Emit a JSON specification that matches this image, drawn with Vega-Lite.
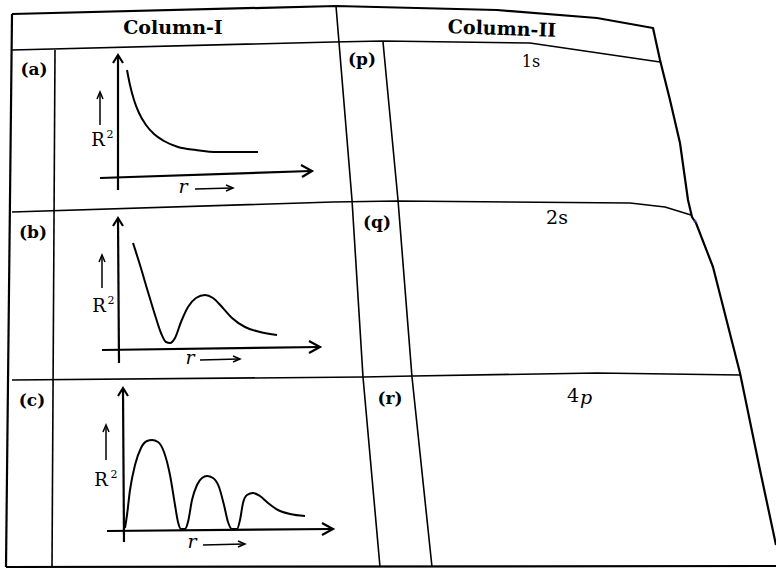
{
  "$schema": "https://vega.github.io/schema/vega-lite/v6.json",
  "width": 776,
  "height": 570,
  "padding": 0,
  "autosize": {"type": "none"},
  "background": "white",
  "config": {"view": {"stroke": null}},
  "datasets": {
    "lines": [
      {"id": "O1", "kind": "outer", "k": 1, "x": 12, "y": 14},
      {"id": "O1", "kind": "outer", "k": 2, "x": 336, "y": 6},
      {"id": "O1", "kind": "outer", "k": 3, "x": 497, "y": 10},
      {"id": "O1", "kind": "outer", "k": 4, "x": 597, "y": 18},
      {"id": "O1", "kind": "outer", "k": 5, "x": 653, "y": 28},
      {"id": "O1", "kind": "outer", "k": 6, "x": 660, "y": 60},
      {"id": "O1", "kind": "outer", "k": 7, "x": 670, "y": 100},
      {"id": "O1", "kind": "outer", "k": 8, "x": 680, "y": 143},
      {"id": "O1", "kind": "outer", "k": 9, "x": 688, "y": 200},
      {"id": "O1", "kind": "outer", "k": 10, "x": 692, "y": 217},
      {"id": "O1", "kind": "outer", "k": 11, "x": 696, "y": 223},
      {"id": "O1", "kind": "outer", "k": 12, "x": 713, "y": 267},
      {"id": "O1", "kind": "outer", "k": 13, "x": 740, "y": 373},
      {"id": "O1", "kind": "outer", "k": 14, "x": 760, "y": 470},
      {"id": "O1", "kind": "outer", "k": 15, "x": 776, "y": 545},
      {"id": "O2", "kind": "outer", "k": 1, "x": 12, "y": 14},
      {"id": "O2", "kind": "outer", "k": 2, "x": 6, "y": 567},
      {"id": "O3", "kind": "outer", "k": 1, "x": 6, "y": 567},
      {"id": "O3", "kind": "outer", "k": 2, "x": 776, "y": 566},
      {"id": "H1", "kind": "inner", "k": 1, "x": 12, "y": 50},
      {"id": "H1", "kind": "inner", "k": 2, "x": 333, "y": 42},
      {"id": "H1", "kind": "inner", "k": 3, "x": 383, "y": 41},
      {"id": "H1", "kind": "inner", "k": 4, "x": 530, "y": 43},
      {"id": "H1", "kind": "inner", "k": 5, "x": 660, "y": 62},
      {"id": "R1", "kind": "inner", "k": 1, "x": 12, "y": 212},
      {"id": "R1", "kind": "inner", "k": 2, "x": 333, "y": 202},
      {"id": "R1", "kind": "inner", "k": 3, "x": 397, "y": 201},
      {"id": "R1", "kind": "inner", "k": 4, "x": 630, "y": 203},
      {"id": "R1", "kind": "inner", "k": 5, "x": 665, "y": 207},
      {"id": "R1", "kind": "inner", "k": 6, "x": 691, "y": 215},
      {"id": "R2", "kind": "inner", "k": 1, "x": 12, "y": 380},
      {"id": "R2", "kind": "inner", "k": 2, "x": 363, "y": 377},
      {"id": "R2", "kind": "inner", "k": 3, "x": 413, "y": 376},
      {"id": "R2", "kind": "inner", "k": 4, "x": 597, "y": 373},
      {"id": "R2", "kind": "inner", "k": 5, "x": 740, "y": 375},
      {"id": "V1", "kind": "inner", "k": 1, "x": 55, "y": 50},
      {"id": "V1", "kind": "inner", "k": 2, "x": 52, "y": 567},
      {"id": "V2", "kind": "inner", "k": 1, "x": 336, "y": 6},
      {"id": "V2", "kind": "inner", "k": 2, "x": 352, "y": 200},
      {"id": "V2", "kind": "inner", "k": 3, "x": 363, "y": 377},
      {"id": "V2", "kind": "inner", "k": 4, "x": 380, "y": 567},
      {"id": "V3", "kind": "inner", "k": 1, "x": 383, "y": 42},
      {"id": "V3", "kind": "inner", "k": 2, "x": 398, "y": 200},
      {"id": "V3", "kind": "inner", "k": 3, "x": 412, "y": 377},
      {"id": "V3", "kind": "inner", "k": 4, "x": 432, "y": 567},

      {"id": "AY", "kind": "axis", "k": 1, "x": 118, "y": 190},
      {"id": "AY", "kind": "axis", "k": 2, "x": 118, "y": 56},
      {"id": "AYh", "kind": "axis", "k": 1, "x": 113, "y": 63},
      {"id": "AYh", "kind": "axis", "k": 2, "x": 118, "y": 55},
      {"id": "AYh", "kind": "axis", "k": 3, "x": 123, "y": 63},
      {"id": "AX", "kind": "axis", "k": 1, "x": 100, "y": 178},
      {"id": "AX", "kind": "axis", "k": 2, "x": 311, "y": 171},
      {"id": "AXh", "kind": "axis", "k": 1, "x": 301, "y": 165},
      {"id": "AXh", "kind": "axis", "k": 2, "x": 312, "y": 171},
      {"id": "AXh", "kind": "axis", "k": 3, "x": 302, "y": 177},
      {"id": "BY", "kind": "axis", "k": 1, "x": 119, "y": 363},
      {"id": "BY", "kind": "axis", "k": 2, "x": 118, "y": 219},
      {"id": "BYh", "kind": "axis", "k": 1, "x": 113, "y": 226},
      {"id": "BYh", "kind": "axis", "k": 2, "x": 118, "y": 218},
      {"id": "BYh", "kind": "axis", "k": 3, "x": 123, "y": 226},
      {"id": "BX", "kind": "axis", "k": 1, "x": 102, "y": 350},
      {"id": "BX", "kind": "axis", "k": 2, "x": 319, "y": 347},
      {"id": "BXh", "kind": "axis", "k": 1, "x": 309, "y": 341},
      {"id": "BXh", "kind": "axis", "k": 2, "x": 320, "y": 347},
      {"id": "BXh", "kind": "axis", "k": 3, "x": 309, "y": 353},
      {"id": "CY", "kind": "axis", "k": 1, "x": 124, "y": 542},
      {"id": "CY", "kind": "axis", "k": 2, "x": 123, "y": 389},
      {"id": "CYh", "kind": "axis", "k": 1, "x": 118, "y": 396},
      {"id": "CYh", "kind": "axis", "k": 2, "x": 123, "y": 388},
      {"id": "CYh", "kind": "axis", "k": 3, "x": 128, "y": 396},
      {"id": "CX", "kind": "axis", "k": 1, "x": 107, "y": 531},
      {"id": "CX", "kind": "axis", "k": 2, "x": 332, "y": 529},
      {"id": "CXh", "kind": "axis", "k": 1, "x": 322, "y": 523},
      {"id": "CXh", "kind": "axis", "k": 2, "x": 333, "y": 529},
      {"id": "CXh", "kind": "axis", "k": 3, "x": 322, "y": 535},

      {"id": "AU", "kind": "thin", "k": 1, "x": 100, "y": 125},
      {"id": "AU", "kind": "thin", "k": 2, "x": 100, "y": 93},
      {"id": "AUh", "kind": "thin", "k": 1, "x": 97, "y": 99},
      {"id": "AUh", "kind": "thin", "k": 2, "x": 100, "y": 92},
      {"id": "AUh", "kind": "thin", "k": 3, "x": 103, "y": 99},
      {"id": "AR", "kind": "thin", "k": 1, "x": 195, "y": 189},
      {"id": "AR", "kind": "thin", "k": 2, "x": 232, "y": 188},
      {"id": "ARh", "kind": "thin", "k": 1, "x": 226, "y": 185},
      {"id": "ARh", "kind": "thin", "k": 2, "x": 233, "y": 188},
      {"id": "ARh", "kind": "thin", "k": 3, "x": 226, "y": 191},
      {"id": "BU", "kind": "thin", "k": 1, "x": 102, "y": 288},
      {"id": "BU", "kind": "thin", "k": 2, "x": 102, "y": 256},
      {"id": "BUh", "kind": "thin", "k": 1, "x": 99, "y": 262},
      {"id": "BUh", "kind": "thin", "k": 2, "x": 102, "y": 255},
      {"id": "BUh", "kind": "thin", "k": 3, "x": 105, "y": 262},
      {"id": "BR", "kind": "thin", "k": 1, "x": 200, "y": 360},
      {"id": "BR", "kind": "thin", "k": 2, "x": 239, "y": 359},
      {"id": "BRh", "kind": "thin", "k": 1, "x": 233, "y": 356},
      {"id": "BRh", "kind": "thin", "k": 2, "x": 240, "y": 359},
      {"id": "BRh", "kind": "thin", "k": 3, "x": 233, "y": 362},
      {"id": "CU", "kind": "thin", "k": 1, "x": 106, "y": 460},
      {"id": "CU", "kind": "thin", "k": 2, "x": 106, "y": 426},
      {"id": "CUh", "kind": "thin", "k": 1, "x": 103, "y": 432},
      {"id": "CUh", "kind": "thin", "k": 2, "x": 106, "y": 425},
      {"id": "CUh", "kind": "thin", "k": 3, "x": 109, "y": 432},
      {"id": "CR", "kind": "thin", "k": 1, "x": 203, "y": 545},
      {"id": "CR", "kind": "thin", "k": 2, "x": 244, "y": 544},
      {"id": "CRh", "kind": "thin", "k": 1, "x": 238, "y": 541},
      {"id": "CRh", "kind": "thin", "k": 2, "x": 245, "y": 544},
      {"id": "CRh", "kind": "thin", "k": 3, "x": 238, "y": 547},

      {"id": "CA", "kind": "curve", "k": 1, "x": 127, "y": 70},
      {"id": "CA", "kind": "curve", "k": 2, "x": 130, "y": 85},
      {"id": "CA", "kind": "curve", "k": 3, "x": 134, "y": 100},
      {"id": "CA", "kind": "curve", "k": 4, "x": 139, "y": 113},
      {"id": "CA", "kind": "curve", "k": 5, "x": 146, "y": 125},
      {"id": "CA", "kind": "curve", "k": 6, "x": 154, "y": 134},
      {"id": "CA", "kind": "curve", "k": 7, "x": 164, "y": 141},
      {"id": "CA", "kind": "curve", "k": 8, "x": 178, "y": 147},
      {"id": "CA", "kind": "curve", "k": 9, "x": 196, "y": 150},
      {"id": "CA", "kind": "curve", "k": 10, "x": 218, "y": 152},
      {"id": "CA", "kind": "curve", "k": 11, "x": 258, "y": 152},
      {"id": "CB", "kind": "curve", "k": 1, "x": 133, "y": 243},
      {"id": "CB", "kind": "curve", "k": 2, "x": 140, "y": 265},
      {"id": "CB", "kind": "curve", "k": 3, "x": 148, "y": 292},
      {"id": "CB", "kind": "curve", "k": 4, "x": 155, "y": 315},
      {"id": "CB", "kind": "curve", "k": 5, "x": 161, "y": 333},
      {"id": "CB", "kind": "curve", "k": 6, "x": 166, "y": 342},
      {"id": "CB", "kind": "curve", "k": 7, "x": 170, "y": 343},
      {"id": "CB", "kind": "curve", "k": 8, "x": 175, "y": 338},
      {"id": "CB", "kind": "curve", "k": 9, "x": 181, "y": 322},
      {"id": "CB", "kind": "curve", "k": 10, "x": 188, "y": 307},
      {"id": "CB", "kind": "curve", "k": 11, "x": 196, "y": 298},
      {"id": "CB", "kind": "curve", "k": 12, "x": 205, "y": 295},
      {"id": "CB", "kind": "curve", "k": 13, "x": 213, "y": 298},
      {"id": "CB", "kind": "curve", "k": 14, "x": 222, "y": 307},
      {"id": "CB", "kind": "curve", "k": 15, "x": 232, "y": 318},
      {"id": "CB", "kind": "curve", "k": 16, "x": 245, "y": 327},
      {"id": "CB", "kind": "curve", "k": 17, "x": 260, "y": 332},
      {"id": "CB", "kind": "curve", "k": 18, "x": 277, "y": 335},
      {"id": "CC", "kind": "curve", "k": 1, "x": 125, "y": 528},
      {"id": "CC", "kind": "curve", "k": 2, "x": 127, "y": 515},
      {"id": "CC", "kind": "curve", "k": 3, "x": 130, "y": 490},
      {"id": "CC", "kind": "curve", "k": 4, "x": 135, "y": 465},
      {"id": "CC", "kind": "curve", "k": 5, "x": 141, "y": 448},
      {"id": "CC", "kind": "curve", "k": 6, "x": 147, "y": 441},
      {"id": "CC", "kind": "curve", "k": 7, "x": 152, "y": 440},
      {"id": "CC", "kind": "curve", "k": 8, "x": 158, "y": 442},
      {"id": "CC", "kind": "curve", "k": 9, "x": 164, "y": 452},
      {"id": "CC", "kind": "curve", "k": 10, "x": 170, "y": 475},
      {"id": "CC", "kind": "curve", "k": 11, "x": 175, "y": 505},
      {"id": "CC", "kind": "curve", "k": 12, "x": 178, "y": 522},
      {"id": "CC", "kind": "curve", "k": 13, "x": 181, "y": 529},
      {"id": "CC", "kind": "curve", "k": 14, "x": 185, "y": 529},
      {"id": "CC", "kind": "curve", "k": 15, "x": 188, "y": 522},
      {"id": "CC", "kind": "curve", "k": 16, "x": 192, "y": 500},
      {"id": "CC", "kind": "curve", "k": 17, "x": 197, "y": 485},
      {"id": "CC", "kind": "curve", "k": 18, "x": 202, "y": 478},
      {"id": "CC", "kind": "curve", "k": 19, "x": 207, "y": 476},
      {"id": "CC", "kind": "curve", "k": 20, "x": 213, "y": 478},
      {"id": "CC", "kind": "curve", "k": 21, "x": 219, "y": 487},
      {"id": "CC", "kind": "curve", "k": 22, "x": 224, "y": 505},
      {"id": "CC", "kind": "curve", "k": 23, "x": 228, "y": 522},
      {"id": "CC", "kind": "curve", "k": 24, "x": 232, "y": 529},
      {"id": "CC", "kind": "curve", "k": 25, "x": 237, "y": 529},
      {"id": "CC", "kind": "curve", "k": 26, "x": 240, "y": 520},
      {"id": "CC", "kind": "curve", "k": 27, "x": 243, "y": 503},
      {"id": "CC", "kind": "curve", "k": 28, "x": 247, "y": 495},
      {"id": "CC", "kind": "curve", "k": 29, "x": 253, "y": 493},
      {"id": "CC", "kind": "curve", "k": 30, "x": 260, "y": 496},
      {"id": "CC", "kind": "curve", "k": 31, "x": 268, "y": 503},
      {"id": "CC", "kind": "curve", "k": 32, "x": 278, "y": 510},
      {"id": "CC", "kind": "curve", "k": 33, "x": 290, "y": 514},
      {"id": "CC", "kind": "curve", "k": 34, "x": 305, "y": 516}
    ],
    "labels": [
      {"kind": "header", "text": "Column-I", "x": 173, "y": 28},
      {"kind": "header2", "text": "Column-II", "x": 502, "y": 29},
      {"kind": "letter", "text": "(a)", "x": 34, "y": 70},
      {"kind": "letter", "text": "(b)", "x": 33, "y": 233},
      {"kind": "letter", "text": "(c)", "x": 32, "y": 401},
      {"kind": "letter", "text": "(p)", "x": 362, "y": 60},
      {"kind": "letter", "text": "(q)", "x": 377, "y": 223},
      {"kind": "letter", "text": "(r)", "x": 390, "y": 399},
      {"kind": "answer1", "text": "1s", "x": 531, "y": 62},
      {"kind": "answer", "text": "2s", "x": 557, "y": 218},
      {"kind": "answer", "text": "4", "x": 573, "y": 396},
      {"kind": "italic", "text": "p", "x": 586, "y": 398},
      {"kind": "axislab", "text": "R", "x": 98, "y": 141},
      {"kind": "sup", "text": "2", "x": 110, "y": 135},
      {"kind": "axislab", "text": "R", "x": 99, "y": 307},
      {"kind": "sup", "text": "2", "x": 111, "y": 301},
      {"kind": "axislab", "text": "R", "x": 101, "y": 481},
      {"kind": "sup", "text": "2", "x": 114, "y": 475},
      {"kind": "italic", "text": "r", "x": 183, "y": 187},
      {"kind": "italic", "text": "r", "x": 190, "y": 358},
      {"kind": "italic", "text": "r", "x": 192, "y": 542}
    ],
    "dots": [
      {"x": 695, "y": 221}
    ]
  },
  "encoding": {
    "x": {"field": "x", "type": "quantitative", "scale": {"domain": [0, 776], "nice": false, "zero": false}, "axis": null},
    "y": {"field": "y", "type": "quantitative", "scale": {"domain": [0, 570], "nice": false, "zero": false, "reverse": true}, "axis": null}
  },
  "layer": [
    {
      "data": {"name": "lines"},
      "transform": [{"filter": "datum.kind === 'outer'"}],
      "mark": {"type": "line", "color": "black", "strokeWidth": 2.2, "strokeJoin": "round"},
      "encoding": {"detail": {"field": "id"}, "order": {"field": "k", "type": "quantitative"}}
    },
    {
      "data": {"name": "lines"},
      "transform": [{"filter": "datum.kind === 'inner'"}],
      "mark": {"type": "line", "color": "black", "strokeWidth": 1.6, "strokeJoin": "round"},
      "encoding": {"detail": {"field": "id"}, "order": {"field": "k", "type": "quantitative"}}
    },
    {
      "data": {"name": "lines"},
      "transform": [{"filter": "datum.kind === 'axis'"}],
      "mark": {"type": "line", "color": "black", "strokeWidth": 2.2, "strokeJoin": "miter", "strokeCap": "butt"},
      "encoding": {"detail": {"field": "id"}, "order": {"field": "k", "type": "quantitative"}}
    },
    {
      "data": {"name": "lines"},
      "transform": [{"filter": "datum.kind === 'thin'"}],
      "mark": {"type": "line", "color": "black", "strokeWidth": 1.5, "strokeJoin": "miter"},
      "encoding": {"detail": {"field": "id"}, "order": {"field": "k", "type": "quantitative"}}
    },
    {
      "data": {"name": "lines"},
      "transform": [{"filter": "datum.kind === 'curve'"}],
      "mark": {"type": "line", "color": "black", "strokeWidth": 2, "interpolate": "monotone", "strokeJoin": "round"},
      "encoding": {"detail": {"field": "id"}, "order": {"field": "k", "type": "quantitative"}}
    },
    {
      "data": {"name": "dots"},
      "mark": {"type": "point", "filled": true, "color": "#3344dd", "size": 10}
    },
    {
      "data": {"name": "labels"},
      "transform": [{"filter": "datum.kind === 'header'"}],
      "mark": {"type": "text", "font": "DejaVu Serif", "fontWeight": "bold", "fontSize": 19, "color": "black", "align": "center", "baseline": "middle"},
      "encoding": {"text": {"field": "text"}}
    },
    {
      "data": {"name": "labels"},
      "transform": [{"filter": "datum.kind === 'header2'"}],
      "mark": {"type": "text", "font": "DejaVu Serif", "fontWeight": "bold", "fontSize": 19, "color": "black", "align": "center", "baseline": "middle", "angle": 2},
      "encoding": {"text": {"field": "text"}}
    },
    {
      "data": {"name": "labels"},
      "transform": [{"filter": "datum.kind === 'letter'"}],
      "mark": {"type": "text", "font": "DejaVu Serif", "fontWeight": "bold", "fontSize": 17, "color": "black", "align": "center", "baseline": "middle"},
      "encoding": {"text": {"field": "text"}}
    },
    {
      "data": {"name": "labels"},
      "transform": [{"filter": "datum.kind === 'answer1'"}],
      "mark": {"type": "text", "font": "DejaVu Serif", "fontSize": 16, "color": "black", "align": "center", "baseline": "middle"},
      "encoding": {"text": {"field": "text"}}
    },
    {
      "data": {"name": "labels"},
      "transform": [{"filter": "datum.kind === 'answer'"}],
      "mark": {"type": "text", "font": "DejaVu Serif", "fontSize": 19, "color": "black", "align": "center", "baseline": "middle"},
      "encoding": {"text": {"field": "text"}}
    },
    {
      "data": {"name": "labels"},
      "transform": [{"filter": "datum.kind === 'italic'"}],
      "mark": {"type": "text", "font": "DejaVu Serif", "fontStyle": "italic", "fontSize": 19, "color": "black", "align": "center", "baseline": "middle"},
      "encoding": {"text": {"field": "text"}}
    },
    {
      "data": {"name": "labels"},
      "transform": [{"filter": "datum.kind === 'axislab'"}],
      "mark": {"type": "text", "font": "DejaVu Serif", "fontSize": 18, "color": "black", "align": "center", "baseline": "middle"},
      "encoding": {"text": {"field": "text"}}
    },
    {
      "data": {"name": "labels"},
      "transform": [{"filter": "datum.kind === 'sup'"}],
      "mark": {"type": "text", "font": "DejaVu Serif", "fontSize": 11, "color": "black", "align": "center", "baseline": "middle"},
      "encoding": {"text": {"field": "text"}}
    }
  ]
}
